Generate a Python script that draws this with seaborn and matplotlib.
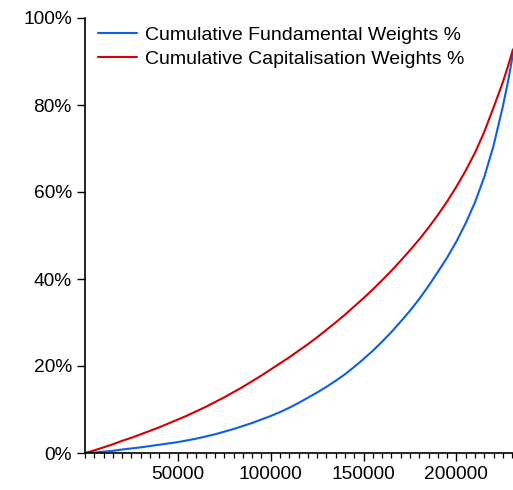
import matplotlib
matplotlib.use("Agg")
import matplotlib.pyplot as plt
from matplotlib.ticker import FixedLocator, MultipleLocator, PercentFormatter
import pandas as pd
import seaborn as sns

# Number of stocks ranked (x) and cumulative weight shares (fractions)
stocks = [0, 5000, 10000, 15000, 20000, 25000, 30000, 35000, 40000, 45000,
          50000, 55000, 60000, 65000, 70000, 75000, 80000, 85000, 90000, 95000,
          100000, 105000, 110000, 115000, 120000, 125000, 130000, 135000,
          140000, 145000, 150000, 155000, 160000, 165000, 170000, 175000,
          180000, 185000, 190000, 195000, 200000, 205000, 210000, 215000,
          220000, 225000, 228000, 230500]

fundamental = [0.000, 0.001, 0.003, 0.005, 0.008, 0.0105, 0.013, 0.016, 0.019,
               0.022, 0.025, 0.029, 0.033, 0.038, 0.043, 0.049, 0.055, 0.062,
               0.069, 0.077, 0.085, 0.094, 0.104, 0.115, 0.127, 0.139, 0.152,
               0.166, 0.181, 0.198, 0.216, 0.235, 0.256, 0.278, 0.302, 0.327,
               0.354, 0.384, 0.416, 0.449, 0.486, 0.528, 0.576, 0.634, 0.706,
               0.796, 0.858, 0.918]

capitalisation = [0.000, 0.006, 0.013, 0.020, 0.028, 0.035, 0.043, 0.051,
                  0.059, 0.068, 0.077, 0.086, 0.096, 0.106, 0.117, 0.128,
                  0.140, 0.152, 0.165, 0.178, 0.192, 0.206, 0.220, 0.235,
                  0.250, 0.266, 0.283, 0.300, 0.318, 0.337, 0.356, 0.376,
                  0.397, 0.419, 0.442, 0.466, 0.491, 0.518, 0.547, 0.578,
                  0.612, 0.649, 0.690, 0.738, 0.794, 0.852, 0.892, 0.928]

series_names = ["Cumulative Fundamental Weights %",
                "Cumulative Capitalisation Weights %"]
x_major = [50000, 100000, 150000, 200000]

df = pd.concat([
    pd.DataFrame({"rank": stocks, "weight": fundamental, "series": series_names[0]}),
    pd.DataFrame({"rank": stocks, "weight": capitalisation, "series": series_names[1]}),
])

sns.set_theme(style="ticks")
plt.rcParams["font.family"] = ["Liberation Sans", "DejaVu Sans"]
plt.rcParams["text.color"] = "black"

fig = plt.figure(figsize=(5.13, 4.90), dpi=100)
ax = fig.add_axes([85 / 513, 1 - 453 / 490, 1 - 85 / 513, (453 - 18) / 490])

sns.lineplot(data=df, x="rank", y="weight", hue="series",
             palette={series_names[0]: "#0d5fe3", series_names[1]: "#d20000"},
             linewidth=1.5, ax=ax, sort=False)

ax.set_xlim(0, 230500)
ax.set_ylim(0, 1.0)
ax.set_xlabel("")
ax.set_ylabel("")

ax.yaxis.set_major_locator(MultipleLocator(0.2))
ax.yaxis.set_major_formatter(PercentFormatter(1.0, decimals=0))
ax.xaxis.set_major_locator(FixedLocator(x_major))
ax.xaxis.set_minor_locator(MultipleLocator(5000))

for side in ("top", "right"):
    ax.spines[side].set_visible(False)
for side in ("left", "bottom"):
    ax.spines[side].set_linewidth(1.2)
    ax.spines[side].set_color("black")

ax.tick_params(axis="both", which="major", direction="out", length=6,
               width=1.0, color="black", labelsize=13.8, labelcolor="black", pad=3.5)
ax.tick_params(axis="x", which="minor", direction="out", length=3.5,
               width=0.9, color="black")

leg = ax.legend(loc="upper left", bbox_to_anchor=(98 / 513, 1 - 26 / 490),
                bbox_transform=fig.transFigure, frameon=False, fontsize=14,
                borderpad=0, borderaxespad=0, handlelength=2.0,
                handletextpad=0.41, labelspacing=0.35)
for line in leg.get_lines():
    line.set_linewidth(1.5)
for text in leg.get_texts():
    text.set_color("black")

fig.savefig("out.png", dpi=100)
